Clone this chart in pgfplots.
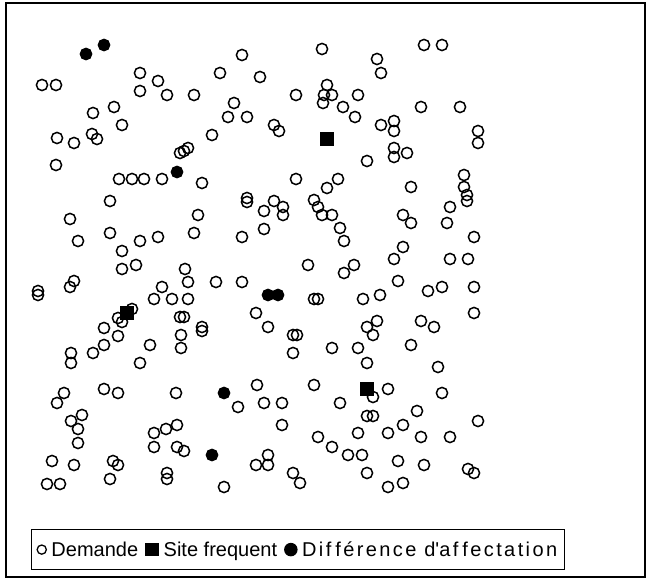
\documentclass[border=0pt]{standalone}
\usepackage{pgfplots}
\pgfplotsset{compat=1.18}
\usepackage{pgfplotstable}
\usepackage{fontspec}
\setmainfont{Liberation Sans}

% positions in pixels of the picture, y measured from the top
\pgfplotstableread{
x y
322 49
424 45
442 45
242 55
377 59
140 73
220 73
381 73
260 77
158 81
42 85
56 85
327 85
140 91
167 95
194 95
296 95
324 95
332 95
358 95
93 113
114 107
234 103
323 103
343 107
421 107
460 107
355 117
228 117
247 117
122 125
274 125
381 125
394 121
279 131
394 131
478 131
57 138
74 143
92 134
97 139
212 135
478 143
394 148
394 157
407 153
180 153
184 151
188 148
367 161
56 165
464 175
119 179
132 179
144 179
162 179
296 179
338 179
202 183
411 187
464 187
327 188
110 201
247 198
247 202
274 201
283 207
283 215
264 211
314 200
318 207
322 215
332 215
467 195
467 201
450 207
198 215
70 219
403 215
411 223
447 223
264 229
194 233
110 233
340 228
78 241
140 241
158 237
242 237
344 241
474 237
122 251
403 247
394 259
450 259
468 259
122 269
136 265
185 269
308 265
354 265
344 273
74 281
70 287
188 282
216 282
242 282
398 281
38 291
38 295
162 287
474 287
442 287
428 291
154 299
172 299
188 299
314 299
318 299
380 295
363 299
132 309
118 318
122 322
104 328
118 336
180 317
184 317
256 313
268 327
202 327
202 331
181 335
293 335
297 335
474 313
421 321
434 327
377 321
367 327
373 335
104 345
150 345
181 348
332 348
358 348
411 345
71 353
71 363
93 353
140 363
293 353
367 363
438 367
64 393
57 403
104 389
118 393
176 393
257 385
314 385
238 407
264 403
282 403
388 389
373 397
442 393
340 403
367 416
373 416
417 411
478 421
403 425
82 415
71 421
78 429
78 443
154 433
166 429
177 425
282 425
154 447
177 447
184 451
318 437
332 447
358 433
388 433
421 437
450 437
52 461
74 465
113 461
118 465
110 479
167 473
167 479
47 484
60 484
268 455
256 465
268 465
293 473
300 483
224 487
348 455
362 455
398 461
424 465
468 469
474 473
367 473
388 487
403 483
}\demande

\pgfplotstableread{
x y
327 139
127 313
367 389
}\sites

\pgfplotstableread{
x y
86 54
104 45
177 172
268 295
278 295
224 393
212 455
}\diff

\begin{document}
\begin{tikzpicture}
\begin{axis}[
  width=648bp, height=580bp, scale only axis,
  xmin=0, xmax=648, ymin=0, ymax=580, y dir=reverse,
  hide axis, clip=false,
  legend columns=-1,
  legend cell align=left,
  legend style={
    at={(axis cs:31,529)}, anchor=north west,
    draw=black, line width=1bp,
    inner xsep=5bp, inner ysep=10bp,
    font=\fontsize{20bp}{22bp}\selectfont,
    /tikz/every odd column/.append style={column sep=2.5bp},
    /tikz/every even column/.append style={column sep=5bp},
  },
]
\path (axis cs:0,0) rectangle (axis cs:648,580);
\draw[line width=2.2bp] (axis cs:6,3) rectangle (axis cs:645,577);

\addplot[only marks, mark=o, mark size=5.6bp, line width=1.5bp, black,
  legend image code/.code={\draw[black, line width=1.3bp] (5bp,0bp) circle (4.6bp);}]
  table {\demande};
\addlegendentry{Demande}

\addplot[only marks, mark=square*, mark size=6.6bp, line width=1.5bp, black,
  legend image code/.code={\fill[black] (0bp,-6bp) rectangle (12.5bp,6bp);}]
  table {\sites};
\addlegendentry{Site frequent}

\addplot[only marks, mark=*, mark size=5.6bp, line width=1.5bp, black,
  legend image code/.code={\fill[black] (6bp,0bp) circle (6bp);}]
  table {\diff};
\addlegendentry{\addfontfeature{LetterSpace=12}Dif\kern4bp férence d\textquotesingle af\kern4bp fectation}
\end{axis}
\end{tikzpicture}
\end{document}
